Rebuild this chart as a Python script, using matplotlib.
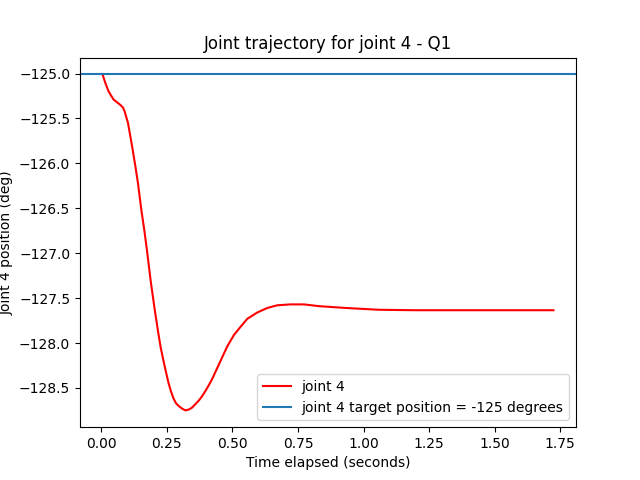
import numpy as np
import matplotlib
matplotlib.use("Agg")
import matplotlib.pyplot as plt

# valori
tempo = [0.005, 0.015, 0.028, 0.047, 0.060, 0.073, 0.083, 0.089, 0.095, 0.102,
         0.111, 0.120, 0.130, 0.140, 0.153, 0.164, 0.174, 0.189, 0.206, 0.216,
         0.226, 0.236, 0.245, 0.257, 0.266, 0.276, 0.285, 0.295, 0.308, 0.321,
         0.334, 0.346, 0.359, 0.372, 0.385, 0.398, 0.410, 0.423, 0.442, 0.461,
         0.480, 0.506, 0.531, 0.557, 0.595, 0.633, 0.671, 0.722, 0.773, 0.831,
         0.933, 1.06, 1.20, 1.40, 1.60, 1.724]
posizione = [-125.01, -125.10, -125.20, -125.29, -125.32, -125.35, -125.38, -125.42, -125.48, -125.55,
             -125.70, -125.85, -126.03, -126.22, -126.52, -126.74, -126.96, -127.32, -127.67, -127.86,
             -128.04, -128.18, -128.30, -128.45, -128.54, -128.62, -128.67, -128.70, -128.73, -128.75,
             -128.74, -128.72, -128.68, -128.64, -128.59, -128.53, -128.47, -128.40, -128.28, -128.16,
             -128.04, -127.91, -127.82, -127.73, -127.66, -127.61, -127.58, -127.57, -127.57, -127.59,
             -127.61, -127.63, -127.635, -127.635, -127.635, -127.635]
target = -125

fig = plt.figure(figsize=(6.4, 4.8), dpi=100)
plt.plot(tempo, posizione, color="red", label="joint 4")
plt.axhline(target, label="joint 4 target position = -125 degrees")
plt.legend(loc="lower right")
plt.title("Joint trajectory for joint 4 - Q1")
plt.xlabel("Time elapsed (seconds)")
plt.ylabel("Joint 4 position (deg)")
plt.savefig("out.png")
